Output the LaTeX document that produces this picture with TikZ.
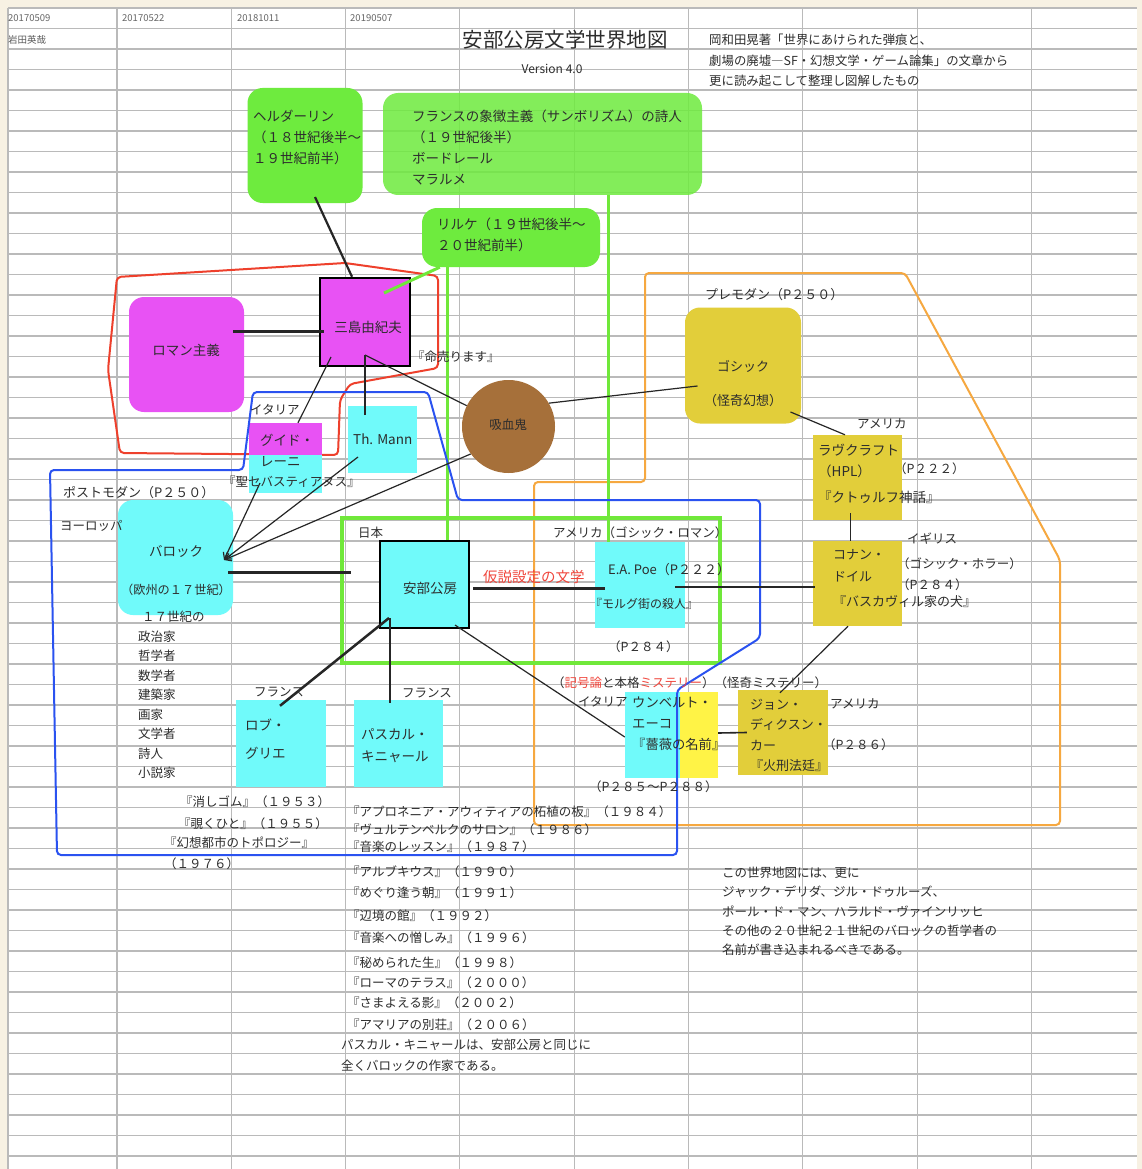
\documentclass[tikz,border=0pt]{standalone}
\usepackage{fontspec}
\setmainfont{Noto Sans CJK JP}
\usetikzlibrary{arrows.meta}

\definecolor{grn}{RGB}{110,235,62}
\definecolor{grnl}{RGB}{112,232,58}
\definecolor{mag}{RGB}{232,82,244}
\definecolor{cyn}{RGB}{112,250,250}
\definecolor{olv}{RGB}{226,206,58}
\definecolor{ylw}{RGB}{255,243,70}
\definecolor{brn}{RGB}{166,112,58}
\definecolor{redl}{RGB}{238,64,44}
\definecolor{blul}{RGB}{42,82,240}
\definecolor{orgl}{RGB}{246,168,64}
\definecolor{cream}{RGB}{247,241,227}
\definecolor{gridc}{RGB}{186,186,186}
\definecolor{txt}{RGB}{45,45,45}
\definecolor{redt}{RGB}{240,70,60}

\begin{document}
\begin{tikzpicture}[x=1pt,y=-1pt,
  gridl/.style={draw=gridc,line width=1.1pt},
  lbl/.style={inner sep=0pt,anchor=west,text=txt,font=\fontsize{12.5}{20.5}\selectfont},
  btxt/.style={inner sep=0pt,anchor=north west,align=left,text=txt,font=\fontsize{13.5}{21}\selectfont},
  card/.style 2 args={inner sep=0pt,minimum width=#1,minimum height=#2},
  rnd/.style={rounded corners=15pt},
  link/.style={draw=black!85,line width=1.2pt},
  glink/.style={draw=grnl,line width=3pt},
  outl/.style={line width=2pt,rounded corners=4pt},
  bar/.style={-{Straight Barb[length=6pt,width=8pt]}}
]
\useasboundingbox (0,0) rectangle (1142,1169);
% sheet and grid
\fill[cream] (0,0) rectangle (1142,1169);
\fill[white] (8,8) rectangle (1137,1169);
\foreach \i in {0,...,56} {
  \draw[gridl] (8,{8+20.5*\i}) -- (1137,{8+20.5*\i});
}
\draw[gridl] (8,8) -- (8,1169);
\foreach \i in {0,...,8} {
  \draw[gridl] ({117+114.3*\i},8) -- ({117+114.3*\i},1169);
}
% header row
\foreach \x/\d in {8/20170509,122/20170522,237/20181011,350/20190507} {
  \node[lbl,text=black!60,font=\fontsize{9.5}{12}\selectfont] (d\d) at (\x,18) {\d};
}
\node[lbl,text=black!65,font=\fontsize{9.5}{12}\selectfont] (author) at (8,40) {岩田英哉};
\node[inner sep=0pt,text=txt,font=\fontsize{20.5}{24}\selectfont] (title) at (565,40) {安部公房文学世界地図};
\node[inner sep=0pt,text=txt,font=\fontsize{12}{14}\selectfont] (version) at (552,69) {Version 4.0};
\node[btxt,font=\fontsize{12.4}{20.5}\selectfont] (source) at (709,34) {岡和田晃著「世界にあけられた弾痕と、\\劇場の廃墟―SF・幻想文学・ゲーム論集」の文章から\\更に読み起こして整理し図解したもの};

% outlines under the boxes
\draw[outl,redl] (117,277) -- (345,263) -- (438,276) -- (438,368) -- (350,384) -- (340,400) -- (338,455) -- (120,453) -- (108,370) -- cycle;
\draw[outl,orgl] (645,273) -- (905,273) -- (1060,560) -- (1060,825) -- (534,825) -- (534,482) -- (645,482) -- cycle;
\draw[grnl,line width=4pt] (342,518) rectangle (720,663);

% green boxes
\node[card={115pt}{115pt},rnd,fill=grn] (hold) at (305,145.5) {};
\node[card={319pt}{102pt},rnd,fill=grn,fill opacity=0.85] (symb) at (542.5,144) {};
\node[card={178pt}{59pt},rnd,fill=grn] (rilke) at (511,237.5) {};

% romanticism group
\node[card={115pt}{115pt},rnd,fill=mag] (roman) at (186.5,354.5) {};
\node[card={90pt}{88pt},fill=mag,draw=black,line width=2.5pt] (mishima) at (365,322) {};
\node[card={73pt}{70pt},fill=cyn,path picture={
  \fill[mag] (path picture bounding box.north west) rectangle ([yshift=-32pt]path picture bounding box.north east);}] (guido) at (285.5,458) {};
\node[card={69pt}{67pt},fill=cyn] (mann) at (382.5,439.5) {};
\node[circle,inner sep=0pt,minimum size=93pt,fill=brn] (vamp) at (508.5,426.5) {};

% baroque, Abe and the others
\node[card={115pt}{115pt},rnd,fill=cyn] (baroque) at (175.5,557.5) {};
\node[card={89pt}{87pt},fill=cyn,draw=black,line width=2.5pt] (abe) at (424.5,584.5) {};
\node[card={90pt}{86pt},fill=cyn] (poe) at (640,585) {};
\node[card={90pt}{87pt},fill=cyn] (robbe) at (281,743.5) {};
\node[card={89pt}{87pt},fill=cyn] (quig) at (398.5,743.5) {};
\node[card={93pt}{86pt},fill=ylw,path picture={
  \fill[cyn] (path picture bounding box.south west) rectangle ([xshift=55pt]path picture bounding box.north west);}] (eco) at (671.5,735) {};

% gothic group
\node[card={116pt}{116pt},rnd,fill=olv] (gothic) at (743,365.5) {};
\node[card={89pt}{85pt},fill=olv] (lovec) at (857.5,477.5) {};
\node[card={89pt}{85pt},fill=olv] (doyle) at (857.5,583.5) {};
\node[card={90pt}{85pt},fill=olv] (carr) at (783,732.5) {};

% Japan / America links from the poets
\draw[glink] ([xshift=-32pt]poe.north) -- ([xshift=-32pt]poe.north |- symb.south);
\draw[glink] ([xshift=22.5pt]abe.north) -- ([xshift=22.5pt]abe.north |- rilke.south);

% postmodern outline over the boxes
\draw[outl,blul] (50,470) -- (243,470) -- (253,392) -- (428,392) -- (458,500) -- (760,500) -- (760,638) -- (677,690) -- (677,855) -- (57,855) -- cycle;

% connectors
\coordinate (barin) at ([xshift=48.5pt,yshift=-2.5pt]baroque.center);
\draw[link,line width=2.2pt] ([xshift=10pt,yshift=-51.5pt]hold.center) -- ([xshift=-13pt]mishima.north);
\draw[link,line width=3pt] ([xshift=46.5pt,yshift=23.5pt]roman.center) -- ([xshift=5pt,yshift=-9pt]mishima.west);
\draw[glink] ([xshift=19pt,yshift=29pt]mishima.center) -- ([xshift=18pt]rilke.south west);
\draw[link] ([xshift=-34pt,yshift=-35pt]mishima.center) -- ([xshift=12.5pt]guido.north);
\draw[link] ([xshift=-17.5pt,yshift=24.5pt]mann.center) -- ([yshift=-33pt]mishima.center);
\draw[link] ([yshift=-33pt]mishima.center) -- (vamp);
\draw[link] (vamp.30) -- ([xshift=-45.5pt,yshift=-20.5pt]gothic.center);
\draw[link] ([xshift=47.5pt,yshift=-46.5pt]gothic.center) -- ([xshift=-12.5pt]lovec.north);
\draw[link,line width=1.6pt] ([xshift=-7pt,yshift=7pt]lovec.south) -- ([xshift=-7pt]doyle.north);
\draw[link,line width=1.6pt] ([xshift=35pt,yshift=-2pt]poe.center) -- ([xshift=2pt,yshift=-3.5pt]doyle.west);
\draw[link,line width=3pt] ([xshift=3pt,yshift=-4pt]abe.east) -- ([xshift=10pt,yshift=-3.5pt]poe.west);
\draw[link,line width=3pt] ([xshift=52.5pt,yshift=-14.5pt]baroque.center) -- ([xshift=-28pt,yshift=12.5pt]abe.west);
\draw[link,bar] ([xshift=-25.5pt,yshift=-25pt]guido.center) -- (barin);
\draw[link,bar] ([xshift=-24.5pt,yshift=-17.5pt]mann.center) -- (barin);
\draw[link,bar] (vamp.216) -- (barin);
\draw[link,line width=2.5pt] ([xshift=-35.5pt,yshift=-33.5pt]abe.center) -- ([xshift=-1pt,yshift=-6pt]robbe.north);
\draw[link,line width=2.2pt] ([xshift=-34.5pt,yshift=-33.5pt]abe.center) -- ([xshift=-8.5pt,yshift=-3pt]quig.north);
\draw[link] ([xshift=30.5pt,yshift=-40.5pt]abe.center) -- ([yshift=-2pt]eco.west);
\draw[link,line width=1.6pt] ([yshift=2pt]eco.east) -- ([xshift=9pt]carr.west);
\draw[link] ([xshift=-9.5pt]doyle.south) -- ([xshift=-3pt,yshift=-3pt]carr.north);

% texts in the boxes
\node[btxt] (hold-t) at (253,110) {ヘルダーリン\\（１８世紀後半〜\\１９世紀前半）};
\node[btxt] (symb-t) at (412,110) {フランスの象徴主義（サンボリズム）の詩人\\（１９世紀後半）\\ボードレール\\マラルメ};
\node[btxt] (rilke-t) at (437,218) {リルケ（１９世紀後半〜\\２０世紀前半）};
\node[inner sep=0pt,text=txt,font=\fontsize{13.5}{21}\selectfont] (roman-t) at (186,350) {ロマン主義};
\node[inner sep=0pt,text=txt,font=\fontsize{13.5}{21}\selectfont] (mishima-t) at (368,327) {三島由紀夫};
\node[btxt] (guido-t) at (260,434) {グイド・\\レーニ};
\node[lbl,font=\fontsize{13.5}{21}\selectfont] (mann-t) at (353,439) {Th. Mann};
\node[inner sep=0pt,text=txt,font=\fontsize{12.5}{21}\selectfont] (vamp-t) at (508,425) {吸血鬼};
\node[btxt,anchor=north,align=center] (baroque-t) at (176,545) {バロック\\[17pt]{\fontsize{12.2}{21}\selectfont（欧州の１７世紀）}};
\node[inner sep=0pt,text=txt,font=\fontsize{13.5}{21}\selectfont] (abe-t) at (430,588) {安部公房};
\node[lbl,font=\fontsize{13}{21}\selectfont] (poe-t) at (608,570) {E.A. Poe（P２２２）};
\node[lbl,font=\fontsize{12}{21}\selectfont] (poe-w) at (590,604) {『モルグ街の殺人』};
\node[btxt,font=\fontsize{13.5}{28}\selectfont] (robbe-t) at (245,719) {ロブ・\\グリエ};
\node[btxt,font=\fontsize{13.5}{22}\selectfont] (quig-t) at (361,728) {パスカル・\\キニャール};
\node[btxt,font=\fontsize{13.3}{21}\selectfont] (eco-t) at (632,696.5) {ウンベルト・\\エーコ\\『薔薇の名前』};
\node[btxt,anchor=north,align=center,font=\fontsize{13}{21}\selectfont] (gothic-t) at (743,360.5) {ゴシック\\[13pt]（怪奇幻想）};
\node[btxt,font=\fontsize{13.5}{21}\selectfont] (lovec-t) at (818,443.5) {ラヴクラフト\\（HPL）\\[5pt]『クトゥルフ神話』};
\node[btxt,font=\fontsize{13}{22}\selectfont] (doyle-t) at (833,549.5) {コナン・\\ドイル\\[3pt]『バスカヴィル家の犬』};
\node[btxt,font=\fontsize{13}{20.5}\selectfont] (carr-t) at (750,698.5) {ジョン・\\ディクスン・\\カー\\『火刑法廷』};

% free labels
\node[lbl] (l-mono) at (412,357) {『命売ります』};
\node[lbl] (l-ita1) at (250,410) {イタリア};
\node[lbl] (l-seb) at (223,482) {『聖セバスティアヌス』};
\node[lbl,font=\fontsize{13}{20.5}\selectfont] (l-post) at (63,493) {ポストモダン（P２５０）};
\node[lbl] (l-eur) at (60,526) {ヨーロッパ};
\node[lbl,font=\fontsize{13}{20.5}\selectfont] (l-pre) at (705,295) {プレモダン（P２５０）};
\node[lbl] (l-usa1) at (857,424) {アメリカ};
\node[lbl] (l-p222) at (894,469) {（P２２２）};
\node[lbl] (l-uk) at (907,539) {イギリス};
\node[lbl] (l-horror) at (897,564) {（ゴシック・ホラー）};
\node[lbl] (l-p284b) at (897,585) {（P２８４）};
\node[lbl] (l-jp) at (358,533) {日本};
\node[lbl] (l-usa2) at (553,533) {アメリカ（ゴシック・ロマン）};
\node[lbl,text=redt,font=\fontsize{14.5}{20.5}\selectfont] (l-hyp) at (483,577) {仮説設定の文学};
\node[lbl] (l-p284) at (608,647) {（P２８４）};
\node[lbl] (l-myst) at (552,683) {（{\color{redt}記号論}と本格{\color{redt}ミステリー}）（怪奇ミステリー）};
\node[lbl] (l-ita2) at (578,702) {イタリア};
\node[lbl] (l-p285) at (589,787) {（P２８５〜P２８８）};
\node[lbl] (l-usa3) at (830,704) {アメリカ};
\node[lbl] (l-p286) at (823,745) {（P２８６）};
\node[lbl] (l-fr1) at (254,692) {フランス};
\node[lbl] (l-fr2) at (402,693) {フランス};

% the seventeenth century list
\foreach \t [count=\i] in {１７世紀の,政治家,哲学者,数学者,建築家,画家,文学者,詩人,小説家} {
  \node[lbl] (c17-\i) at ({\i==1 ? 142 : 138},{617+19.5*(\i-1)}) {\t};
}
% Robbe-Grillet works
\foreach \x/\y/\t [count=\i] in {180/802/『消しゴム』（１９５３）,178/824/『覗くひと』（１９５５）,164/843/『幻想都市のトポロジー』,164/864/（１９７６）} {
  \node[lbl] (rg-\i) at (\x,\y) {\t};
}
% Quignard works
\foreach \y/\t [count=\i] in {812/『アプロネニア・アウィティアの柘植の板』（１９８４）,830/『ヴュルテンベルクのサロン』（１９８６）,847/『音楽のレッスン』（１９８７）,872/『アルブキウス』（１９９０）,893/『めぐり逢う朝』（１９９１）,916/『辺境の館』（１９９２）,938/『音楽への憎しみ』（１９９６）,963/『秘められた生』（１９９８）,983/『ローマのテラス』（２０００）,1003/『さまよえる影』（２００２）,1025/『アマリアの別荘』（２００６）} {
  \node[lbl] (pq-\i) at (347,\y) {\t};
}
\node[btxt,font=\fontsize{12.5}{21}\selectfont] (pq-note) at (341,1038.5) {パスカル・キニャールは、安部公房と同じに\\全くバロックの作家である。};
\node[btxt,font=\fontsize{12.5}{19.4}\selectfont] (map-note) at (722,866.5) {この世界地図には、更に\\ジャック・デリダ、ジル・ドゥルーズ、\\ポール・ド・マン、ハラルド・ヴァインリッヒ\\その他の２０世紀２１世紀のバロックの哲学者の\\名前が書き込まれるべきである。};
\end{tikzpicture}
\end{document}
